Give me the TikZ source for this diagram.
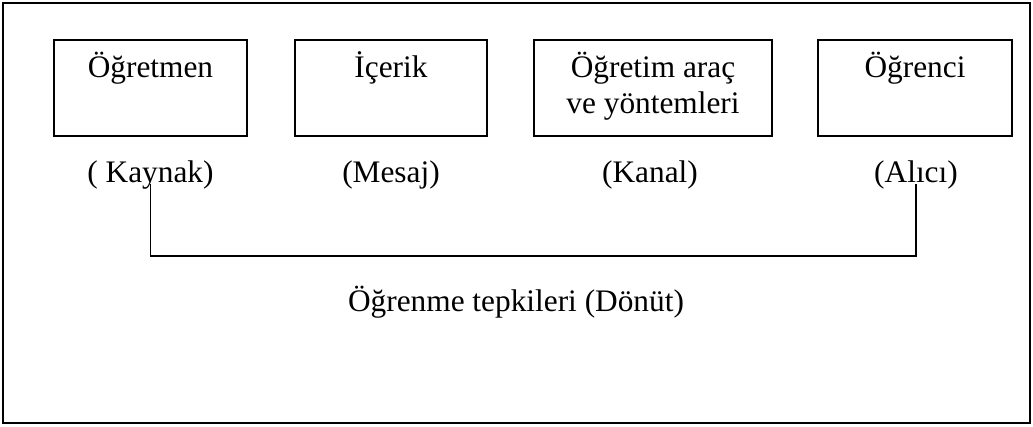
\documentclass[tikz,border=0pt]{standalone}
\usepackage{fontspec}
\setmainfont{Liberation Serif}
\begin{document}
\begin{tikzpicture}[
        x=0.75pt, y=-0.75pt,
        every node/.style={font=\fontsize{23.5}{27}\selectfont},
        box/.style={rectangle, draw, line width=1.4pt, minimum height=96*0.75pt, align=center, inner sep=0pt},
        role/.style={anchor=base, inner sep=1.5pt, text depth=0pt},
        link/.style={line width=1.4pt}
    ]
        \useasboundingbox (0,0) rectangle (1033,426);

        % Outer frame
        \draw[line width=1.4pt] (3,3) rectangle (1030,423);

        % Communication elements
        \node[box, minimum width=193*0.75pt] (ogretmen) at (150.5,88) {
            \strut Öğretmen\\
            \strut
        };

        \node[box, minimum width=192*0.75pt] (icerik) at (391,88) {
            \strut İçerik\\
            \strut
        };

        \node[box, minimum width=238*0.75pt] (arac) at (653,88) {
            \strut Öğretim araç\\
            \strut ve yöntemleri
        };

        \node[box, minimum width=194*0.75pt] (ogrenci) at (915,88) {
            \strut Öğrenci\\
            \strut
        };

        % Roles
        \node[role] (kaynak) at (150.5,182) {( Kaynak)};
        \node[role] (mesaj) at (391,182) {(Mesaj)};
        \node[role] (kanal) at (650,182) {(Kanal)};
        \node[role] (alici) at (916,182) {(Alıcı)};

        % Feedback
        \node[anchor=base, inner sep=0pt] (donut) at (516,311) {Öğrenme tepkileri (Dönüt)};

        \draw[link] (kaynak.south) -- ++(0,72) -| (alici.south);
    \end{tikzpicture}
\end{document}
